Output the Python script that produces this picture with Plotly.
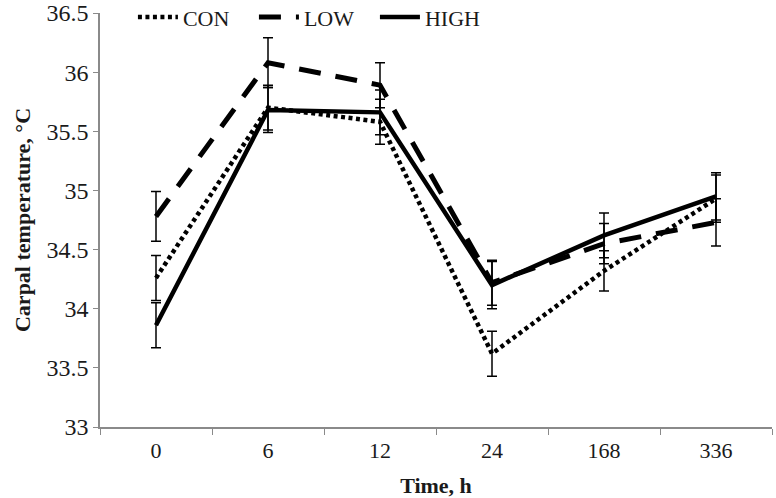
import plotly.graph_objects as go

times = ["0", "6", "12", "24", "168", "336"]
con = [34.26, 35.70, 35.58, 33.62, 34.32, 34.93]
low = [34.78, 36.08, 35.89, 34.22, 34.55, 34.73]
high = [33.86, 35.68, 35.66, 34.20, 34.62, 34.95]
con_err = [0.19, 0.19, 0.19, 0.19, 0.17, 0.20]
low_err = [0.21, 0.21, 0.19, 0.19, 0.17, 0.20]
high_err = [0.19, 0.19, 0.19, 0.20, 0.19, 0.20]

FONT = "Liberation Serif"

def err(vals):
    return dict(type="data", array=vals, visible=True, color="black",
                thickness=1.5, width=5)

fig = go.Figure()
fig.add_trace(go.Scatter(x=times, y=con, name="CON", mode="lines",
                         line=dict(color="black", width=4.5, dash="4px,3.5px"),
                         error_y=err(con_err)))
fig.add_trace(go.Scatter(x=times, y=low, name="LOW", mode="lines",
                         line=dict(color="black", width=5, dash="22px,15px"),
                         error_y=err(low_err)))
fig.add_trace(go.Scatter(x=times, y=high, name="HIGH", mode="lines",
                         line=dict(color="black", width=4.5),
                         error_y=err(high_err)))

fig.update_layout(
    width=776, height=498,
    margin=dict(l=100, r=4, t=13, b=71, autoexpand=False),
    paper_bgcolor="white", plot_bgcolor="white",
    font=dict(family=FONT, size=22, color="#1a1a1a"),
    showlegend=True,
    legend=dict(orientation="h", x=0.049, xanchor="left",
                y=0.99, yanchor="middle",
                bgcolor="rgba(0,0,0,0)",
                entrywidth=66, entrywidthmode="pixels",
                font=dict(family=FONT, size=22, color="#1a1a1a"),
                itemwidth=40, tracegroupgap=0),
    xaxis=dict(type="category", range=[-0.5, 5.5], showgrid=False,
               automargin=False,
               showline=True, linecolor="#8a8a8a", linewidth=1.5,
               ticks="outside", ticklen=6, tickcolor="#8a8a8a",
               tickson="boundaries", ticklabelstandoff=3,
               title=dict(text="<b>Time, h</b>", standoff=16,
                          font=dict(family=FONT, size=22, color="#1a1a1a")),
               tickfont=dict(family=FONT, size=22)),
    yaxis=dict(range=[33, 36.5], dtick=0.5, showgrid=False, zeroline=False,
               automargin=False,
               showline=True, linecolor="#8a8a8a", linewidth=1.5,
               ticks="outside", ticklen=5, tickcolor="#8a8a8a",
               title=dict(text="<b>Carpal temperature, °C</b>", standoff=10,
                          font=dict(family=FONT, size=22, color="#1a1a1a")),
               tickfont=dict(family=FONT, size=24)),
)

fig.write_html("out.html",
               config={"displayModeBar": False},
               post_script="document.body.style.margin='0px';"
                           "document.body.style.overflow='hidden';")
